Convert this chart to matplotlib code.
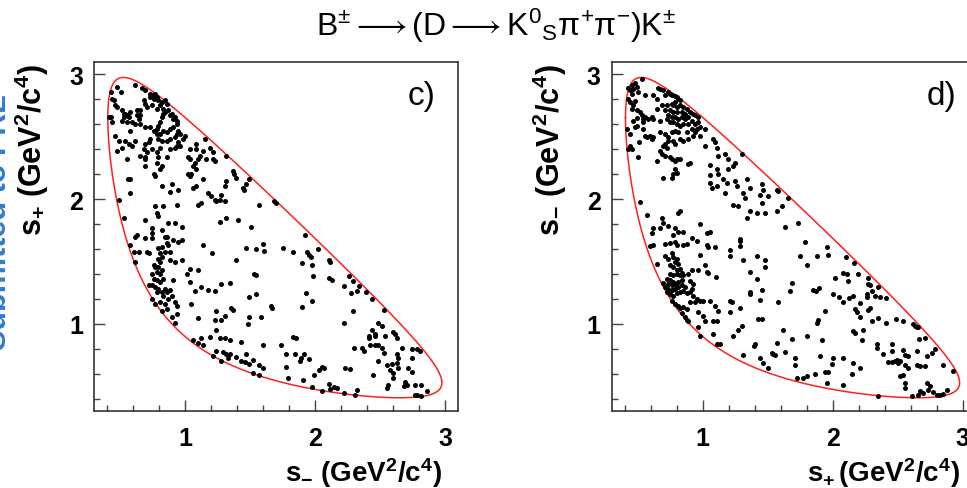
import numpy as np
import matplotlib
matplotlib.use("Agg")
import matplotlib.pyplot as plt
from matplotlib.ticker import MultipleLocator

plt.rcParams['font.family'] = ['Liberation Sans', 'DejaVu Sans']
plt.rcParams['mathtext.fontset'] = 'custom'
plt.rcParams['mathtext.rm'] = 'Liberation Sans'
plt.rcParams['mathtext.it'] = 'Liberation Sans:italic'
plt.rcParams['mathtext.bf'] = 'Liberation Sans:bold'
plt.rcParams['mathtext.sf'] = 'Liberation Sans'

# particle masses (GeV/c^2) defining the Dalitz plot boundary
m_D, m_K, m_pi = 1.8648, 0.4976, 0.1396

# ---------------- panel c) : (s-, s+) pairs ----------------
c_top = [(0.478, 2.900), (0.504, 2.860), (0.43, 2.86), (0.618, 2.919), (0.669, 2.892), (0.694, 2.874),
         (0.732, 2.846), (0.745, 2.833), (0.770, 2.846), (0.783, 2.82), (0.796, 2.792), (0.758, 2.806),
         (0.727, 2.82), (0.808, 2.752), (0.821, 2.779), (0.847, 2.792), (0.859, 2.765), (0.834, 2.725),
         (0.783, 2.725), (0.745, 2.752), (0.707, 2.738), (0.681, 2.792), (0.689, 2.765), (0.656, 2.711),
         (0.631, 2.711), (0.58, 2.698), (0.554, 2.671), (0.529, 2.684), (0.516, 2.711), (0.478, 2.738),
         (0.465, 2.752), (0.45, 2.792), (0.44, 2.806), (0.43, 2.657), (0.415, 2.657), (0.44, 2.617),
         (0.516, 2.63), (0.529, 2.657), (0.542, 2.684), (0.567, 2.657), (0.554, 2.617), (0.593, 2.617),
         (0.618, 2.604), (0.643, 2.644), (0.656, 2.604), (0.694, 2.576), (0.732, 2.576), (0.758, 2.55),
         (0.783, 2.563), (0.796, 2.59), (0.808, 2.617), (0.821, 2.657), (0.834, 2.684), (0.847, 2.698),
         (0.872, 2.711), (0.885, 2.671), (0.897, 2.684), (0.91, 2.644), (0.923, 2.657), (0.935, 2.63),
         (0.94, 2.604), (0.91, 2.576), (0.885, 2.563), (0.859, 2.536), (0.834, 2.55), (0.808, 2.522),
         (0.796, 2.482), (0.783, 2.522), (0.732, 2.482), (0.72, 2.455), (0.694, 2.442), (0.681, 2.401),
         (0.656, 2.347), (0.694, 2.334), (0.707, 2.374), (0.745, 2.401), (0.783, 2.374), (0.808, 2.414),
         (0.821, 2.468), (0.859, 2.468), (0.885, 2.482), (0.923, 2.496), (0.935, 2.522), (0.948, 2.55),
         (0.961, 2.522), (0.999, 2.509), (0.986, 2.482), (0.948, 2.455), (0.935, 2.428), (0.961, 2.423),
         (0.923, 2.414), (0.885, 2.401), (0.859, 2.334), (0.796, 2.334), (0.783, 2.293), (0.808, 2.239),
         (0.821, 2.266), (0.758, 2.198), (0.77, 2.185), (0.694, 2.32), (0.694, 2.266), (0.554, 2.32),
         (0.516, 2.414), (0.478, 2.388), (0.49, 2.468), (0.465, 2.509), (0.542, 2.468), (0.567, 2.442),
         (0.593, 2.428), (0.618, 2.468), (0.58, 2.55), (0.631, 2.671), (0.656, 2.671)]
c_mid = [(0.821, 2.104), (0.885, 2.055), (0.948, 2.077), (0.897, 2.118), (1.037, 2.401), (1.024, 2.334),
         (1.037, 2.32), (1.062, 2.266), (1.088, 2.239), (1.075, 2.293), (1.1, 2.32), (1.113, 2.347),
         (1.088, 2.442), (1.088, 2.401), (1.151, 2.482), (1.139, 2.388), (1.164, 2.32), (1.215, 2.32),
         (1.19, 2.414), (1.215, 2.374), (1.228, 2.306), (1.037, 2.185), (1.05, 2.198), (1.024, 2.198),
         (1.062, 2.09), (1.088, 2.104), (1.139, 2.158), (1.177, 2.05), (1.202, 2.023), (1.228, 1.996),
         (1.24, 1.982), (1.278, 2.036), (1.266, 1.996), (1.304, 1.982), (1.316, 2.144), (1.304, 2.104),
         (1.367, 2.226), (1.38, 2.198), (1.393, 2.172), (1.443, 2.09), (1.456, 2.077), (1.494, 2.158),
         (1.469, 2.118), (1.316, 2.347), (1.57, 1.956), (1.685, 1.982), (1.697, 1.969), (1.126, 1.969),
         (1.1, 1.956), (0.56, 2.163), (0.575, 2.158), (0.58, 2.05), (0.49, 1.996), (0.529, 1.848),
         (0.694, 1.834), (0.77, 1.942), (0.783, 1.888), (0.796, 1.861), (0.834, 1.942), (0.872, 1.807),
         (0.923, 1.812), (0.935, 1.956), (0.745, 1.766), (0.745, 1.726), (0.821, 1.753), (0.847, 1.699),
         (0.631, 1.712), (1.266, 1.82), (1.316, 1.848), (1.405, 1.834), (1.507, 1.78), (0.974, 1.775),
         (0.859, 1.699), (0.618, 1.699)]
c_low = [(0.694, 1.685), (0.745, 1.685), (0.91, 1.672), (0.948, 1.658), (0.974, 1.672), (0.859, 1.645),
         (0.872, 1.631), (0.58, 1.631), (0.605, 1.577), (0.643, 1.577), (0.707, 1.577), (0.72, 1.564),
         (0.796, 1.604), (0.821, 1.618), (0.808, 1.564), (0.847, 1.577), (0.885, 1.577), (0.796, 1.523),
         (0.821, 1.537), (0.808, 1.496), (0.885, 1.51), (0.923, 1.496), (0.974, 1.515), (0.618, 1.496),
         (0.758, 1.469), (0.77, 1.456), (0.796, 1.456), (0.821, 1.429), (0.783, 1.415), (0.808, 1.402),
         (0.745, 1.402), (0.758, 1.361), (0.783, 1.348), (0.808, 1.334), (0.834, 1.361), (0.91, 1.348),
         (0.72, 1.307), (0.745, 1.307), (0.77, 1.294), (0.796, 1.28), (0.783, 1.253), (0.821, 1.253),
         (0.847, 1.28), (0.859, 1.253), (0.885, 1.267), (0.897, 1.226), (0.872, 1.199), (0.834, 1.226),
         (0.745, 1.199), (0.77, 1.159), (0.808, 1.172), (0.847, 1.159), (0.859, 1.118), (0.821, 1.105),
         (0.923, 1.172), (0.935, 1.145), (0.897, 1.051), (0.935, 1.078), (0.923, 1.01), (1.139, 1.631),
         (1.204, 1.569), (1.393, 1.515), (1.469, 1.604), (1.547, 1.596), (1.598, 1.64), (1.611, 1.586),
         (1.751, 1.604), (1.037, 1.442), (1.1, 1.429), (1.012, 1.402), (1.037, 1.334), (1.075, 1.262),
         (1.126, 1.294), (1.177, 1.267), (1.228, 1.262), (1.278, 1.321), (1.343, 1.326), (1.05, 1.159),
         (1.1, 1.043), (1.24, 1.1), (1.278, 1.029), (1.228, 1.029), (1.304, 1.064), (1.355, 1.127),
         (1.367, 1.11), (1.547, 1.388), (1.532, 1.402), (1.494, 1.218), (1.547, 1.235), (1.482, 0.997),
         (1.494, 1.056), (1.585, 1.051), (1.66, 1.145), (1.672, 1.127), (1.237, 0.948), (1.062, 0.867),
         (1.1, 0.848), (1.139, 0.829), (1.126, 0.889), (1.19, 0.894), (1.267, 0.889), (1.305, 0.884),
         (1.344, 0.867), (1.433, 0.857), (1.237, 0.781), (1.216, 0.74), (1.293, 0.776), (1.318, 0.759),
         (1.344, 0.759), (1.331, 0.727), (1.28, 0.705), (1.395, 0.732), (1.433, 0.7), (1.471, 0.754),
         (1.458, 0.695), (1.496, 0.678), (1.522, 0.713), (1.573, 0.668), (1.598, 0.646), (1.522, 0.605),
         (1.573, 0.587), (1.598, 0.829), (1.738, 0.829), (1.776, 0.759), (1.776, 0.651), (1.789, 0.565)]
c_right = [(1.923, 1.712), (1.827, 1.577), (1.941, 1.577), (1.954, 1.55), (1.967, 1.537), (2.025, 1.596),
           (1.903, 1.488), (1.979, 1.475), (2.107, 1.51), (2.112, 1.496), (1.985, 1.38), (2.107, 1.37),
           (2.127, 1.348), (2.221, 1.299), (2.265, 1.38), (2.29, 1.34), (2.336, 1.299), (2.323, 1.262),
           (2.28, 1.248), (2.392, 1.253), (2.438, 1.197), (1.929, 1.248), (1.979, 1.181), (1.898, 1.137),
           (2.29, 1.105), (2.527, 1.11), (2.221, 1.01), (2.488, 1.01), (2.514, 0.983), (2.438, 0.951),
           (2.463, 0.916), (2.412, 0.902), (2.417, 0.884), (2.463, 0.902), (2.539, 0.902), (2.603, 0.935),
           (2.616, 0.916), (2.634, 0.889), (1.827, 0.894), (1.852, 0.884), (2.298, 0.808), (2.361, 0.808),
           (2.374, 0.781), (2.425, 0.83), (2.463, 0.83), (2.488, 0.83), (2.514, 0.808), (2.527, 0.767),
           (2.667, 0.803), (2.743, 0.794), (2.781, 0.794), (2.807, 0.781), (1.847, 0.754), (1.89, 0.727),
           (1.883, 0.7), (1.916, 0.754), (1.954, 0.719), (2.488, 0.7), (2.552, 0.668), (2.59, 0.678),
           (2.628, 0.754), (2.641, 0.722), (2.578, 0.632), (2.603, 0.605), (2.628, 0.686), (2.641, 0.641),
           (2.717, 0.646), (2.743, 0.614), (2.743, 0.722), (1.992, 0.587), (2.03, 0.632), (2.056, 0.651),
           (2.069, 0.646), (2.234, 0.646), (2.272, 0.638), (2.443, 0.587), (1.908, 0.546), (1.979, 0.492),
           (2.056, 0.457), (2.107, 0.516), (2.112, 0.476), (2.145, 0.492), (2.17, 0.484), (2.221, 0.443),
           (2.31, 0.425), (2.323, 0.468), (2.552, 0.484), (2.565, 0.505), (2.603, 0.565), (2.692, 0.53),
           (2.705, 0.511), (2.687, 0.503), (2.768, 0.505), (2.768, 0.43), (2.781, 0.43), (2.819, 0.511),
           (2.819, 0.417), (2.858, 0.457)]

# ---------------- panel d) : (s+, s-) pairs ----------------
d_top = [(0.531, 2.963), (0.479, 2.928), (0.454, 2.914), (0.428, 2.892), (0.441, 2.874), (0.466, 2.887),
         (0.492, 2.9), (0.505, 2.86), (0.454, 2.846), (0.428, 2.806), (0.441, 2.779), (0.479, 2.784),
         (0.466, 2.752), (0.454, 2.725), (0.492, 2.711), (0.518, 2.698), (0.531, 2.671), (0.543, 2.644),
         (0.556, 2.657), (0.492, 2.649), (0.466, 2.63), (0.415, 2.563), (0.441, 2.522), (0.479, 2.576),
         (0.492, 2.59), (0.543, 2.563), (0.556, 2.509), (0.569, 2.496), (0.595, 2.509), (0.608, 2.482),
         (0.62, 2.496), (0.513, 2.455), (0.441, 2.423), (0.428, 2.401), (0.454, 2.406), (0.505, 2.334),
         (0.556, 2.838), (0.62, 2.833), (0.646, 2.806), (0.659, 2.892), (0.672, 2.887), (0.697, 2.874),
         (0.71, 2.833), (0.736, 2.86), (0.749, 2.846), (0.761, 2.838), (0.787, 2.828), (0.8, 2.82),
         (0.813, 2.806), (0.825, 2.792), (0.787, 2.779), (0.761, 2.765), (0.774, 2.752), (0.8, 2.738),
         (0.825, 2.752), (0.851, 2.738), (0.877, 2.725), (0.864, 2.684), (0.838, 2.698), (0.8, 2.698),
         (0.774, 2.698), (0.749, 2.711), (0.736, 2.671), (0.761, 2.657), (0.787, 2.657), (0.813, 2.644),
         (0.838, 2.657), (0.864, 2.644), (0.89, 2.657), (0.902, 2.698), (0.928, 2.684), (0.941, 2.671),
         (0.966, 2.657), (0.966, 2.617), (0.941, 2.604), (0.915, 2.63), (0.89, 2.604), (0.851, 2.604),
         (0.825, 2.59), (0.8, 2.604), (0.774, 2.617), (0.749, 2.617), (0.723, 2.644), (0.672, 2.63),
         (0.62, 2.644), (0.608, 2.657), (0.582, 2.644), (0.543, 2.617), (0.646, 2.725), (0.684, 2.752),
         (0.71, 2.711), (0.723, 2.752)]
d_mid = [(0.672, 2.536), (0.71, 2.522), (0.736, 2.496), (0.761, 2.536), (0.787, 2.55), (0.813, 2.536),
         (0.825, 2.482), (0.851, 2.468), (0.89, 2.482), (0.928, 2.509), (0.941, 2.536), (0.954, 2.563),
         (0.979, 2.576), (1.018, 2.563), (0.979, 2.509), (0.915, 2.563), (0.877, 2.536), (0.736, 2.468),
         (0.774, 2.468), (0.787, 2.442), (0.71, 2.442), (0.723, 2.414), (0.697, 2.428), (0.672, 2.388),
         (0.684, 2.36), (0.71, 2.347), (0.749, 2.334), (0.8, 2.32), (0.787, 2.306), (0.825, 2.32),
         (0.761, 2.32), (0.646, 2.306), (0.787, 2.239), (0.8, 2.212), (0.774, 2.198), (0.697, 2.172),
         (0.761, 2.172), (0.902, 2.293), (0.89, 2.28), (1.018, 2.423), (1.056, 2.271), (1.082, 2.482),
         (1.095, 2.455), (1.108, 2.414), (1.12, 2.347), (1.172, 2.36), (1.197, 2.32), (1.249, 2.293),
         (1.236, 2.266), (1.197, 2.239), (1.108, 2.239), (1.12, 2.198), (1.056, 2.19), (1.159, 2.158),
         (1.056, 2.131), (1.108, 2.104), (1.069, 2.09), (1.172, 2.05), (1.184, 2.131), (1.249, 2.144),
         (1.261, 2.104), (1.338, 2.158), (1.313, 2.05), (1.325, 2.01), (1.364, 2.09), (1.454, 2.118),
         (1.466, 2.077), (1.441, 2.036), (1.364, 1.902), (1.415, 1.888), (1.454, 1.969), (1.479, 1.888),
         (1.505, 2.023), (1.569, 2.077), (1.582, 2.064), (1.608, 1.942), (1.569, 1.902), (1.633, 1.78),
         (1.659, 2.01), (1.736, 1.807), (1.3, 2.36), (1.236, 1.956), (1.274, 1.942), (1.338, 1.848),
         (0.518, 1.974), (0.569, 1.875), (0.684, 1.848), (0.697, 1.807), (0.736, 1.786), (0.62, 1.766),
         (0.608, 1.726), (0.672, 1.766), (0.787, 1.766), (0.813, 1.888), (0.825, 1.902), (0.774, 1.712),
         (0.813, 1.74), (0.851, 1.74), (0.979, 1.802), (0.915, 1.686), (1.031, 1.731), (1.056, 1.74),
         (1.287, 1.677)]
d_low = [(0.595, 1.623), (0.62, 1.631), (0.71, 1.64), (0.749, 1.650), (0.787, 1.658), (0.8, 1.631),
         (0.851, 1.631), (0.877, 1.64), (0.954, 1.667), (1.031, 1.631), (1.043, 1.618), (1.095, 1.618),
         (1.21, 1.591), (1.287, 1.667), (1.287, 1.623), (1.21, 1.542), (1.313, 1.51), (1.415, 1.542),
         (1.479, 1.515), (1.479, 1.456), (1.787, 1.658), (1.748, 1.542), (1.8, 1.469), (0.646, 1.483),
         (0.71, 1.542), (0.736, 1.523), (0.761, 1.564), (0.774, 1.537), (0.8, 1.523), (0.787, 1.496),
         (0.813, 1.483), (0.749, 1.469), (0.774, 1.456), (0.8, 1.429), (0.825, 1.442), (0.749, 1.402),
         (0.774, 1.388), (0.8, 1.402), (0.825, 1.388), (0.838, 1.407), (0.851, 1.388), (0.723, 1.361),
         (0.749, 1.348), (0.774, 1.334), (0.736, 1.321), (0.761, 1.307), (0.787, 1.321), (0.813, 1.334),
         (0.838, 1.348), (0.697, 1.326), (0.71, 1.294), (0.736, 1.28), (0.761, 1.267), (0.787, 1.28),
         (0.813, 1.294), (0.838, 1.307), (0.864, 1.294), (0.723, 1.253), (0.749, 1.24), (0.774, 1.226),
         (0.8, 1.245), (0.825, 1.253), (0.851, 1.262), (0.877, 1.245), (0.902, 1.253), (0.915, 1.28),
         (0.928, 1.321), (0.902, 1.343), (0.89, 1.402), (0.915, 1.429), (0.966, 1.434), (0.979, 1.55),
         (1.018, 1.469), (1.031, 1.415), (1.043, 1.407), (0.928, 1.226), (0.954, 1.199), (0.941, 1.172),
         (0.902, 1.172), (0.761, 1.186), (0.787, 1.159), (0.813, 1.145), (0.825, 1.127), (0.851, 1.132),
         (0.877, 1.118), (0.838, 1.083), (0.864, 1.051), (0.877, 1.029), (0.89, 1.024), (0.979, 1.181),
         (1.005, 1.186), (1.056, 1.181), (0.966, 1.091), (1.005, 1.064), (1.018, 1.024), (0.966, 0.975),
         (0.979, 0.902), (1.082, 1.024), (1.108, 1.024), (1.095, 1.145), (1.12, 1.105), (1.102, 1.375),
         (1.21, 1.186), (1.223, 1.172), (1.21, 1.091), (1.287, 1.127), (1.364, 1.415), (1.415, 1.361),
         (1.454, 1.267), (1.364, 1.253), (1.364, 1.235), (1.441, 1.191), (1.428, 1.037), (1.454, 1.037),
         (1.582, 1.172), (1.684, 1.326), (1.671, 1.262), (1.082, 0.916), (1.108, 0.84), (1.133, 0.84),
         (1.236, 0.902), (1.274, 0.948), (1.3, 0.983), (1.313, 0.749), (1.395, 0.821), (1.402, 0.835),
         (1.441, 0.727), (1.466, 0.686), (1.505, 0.641), (1.543, 0.759), (1.569, 0.848), (1.531, 0.767),
         (1.556, 0.749), (1.615, 0.948), (1.633, 0.776), (1.684, 0.875), (1.71, 0.722), (1.71, 0.668),
         (1.8, 0.902), (1.723, 0.565), (1.774, 0.565), (1.8, 0.578)]
d_right = [(1.958, 1.618), (1.876, 1.542), (1.966, 1.55), (2.102, 1.532), (2.163, 1.488), (2.017, 1.37),
           (2.081, 1.407), (2.107, 1.402), (2.12, 1.34), (2.197, 1.402), (2.274, 1.37), (2.274, 1.316),
           (2.286, 1.307), (2.299, 1.262), (2.325, 1.226), (2.351, 1.294), (2.363, 1.218), (2.41, 1.208),
           (2.261, 1.24), (2.261, 1.213), (1.851, 1.267), (1.871, 1.262), (1.897, 1.289), (2.004, 1.235),
           (2.051, 1.218), (2.076, 1.178), (2.127, 1.208), (2.153, 1.226), (2.21, 1.164), (2.171, 1.118),
           (2.184, 1.091), (2.21, 1.051), (2.274, 1.11), (2.286, 1.127), (2.299, 1.019), (2.351, 1.046),
           (2.41, 1.01), (2.486, 1.035), (2.543, 1.024), (2.62, 0.997), (2.633, 0.983), (2.645, 0.975),
           (2.658, 0.97), (2.666, 0.875), (2.71, 0.889), (1.94, 1.1), (1.889, 1.029), (1.876, 1.01),
           (1.915, 0.867), (2.158, 0.943), (2.171, 0.929), (2.235, 0.948), (2.222, 0.867), (2.338, 0.84),
           (2.338, 0.803), (2.389, 0.754), (2.453, 0.835), (2.453, 0.781), (2.427, 0.695), (2.453, 0.695),
           (2.479, 0.7), (2.492, 0.713), (2.504, 0.686), (2.517, 0.7), (2.543, 0.786), (2.556, 0.749),
           (2.581, 0.74), (2.556, 0.668), (2.581, 0.646), (2.645, 0.781), (2.645, 0.668), (2.671, 0.659),
           (2.71, 0.659), (2.722, 0.74), (2.761, 0.767), (2.786, 0.794), (2.851, 0.673), (2.927, 0.619),
           (1.902, 0.74), (2.004, 0.722), (2.081, 0.722), (2.158, 0.686), (2.21, 0.646), (2.145, 0.597),
           (1.992, 0.678), (1.94, 0.614), (1.966, 0.614), (1.863, 0.597), (1.953, 0.525), (2.081, 0.511),
           (2.351, 0.417), (2.517, 0.578), (2.543, 0.592), (2.556, 0.525), (2.556, 0.484), (2.607, 0.417),
           (2.658, 0.43), (2.671, 0.457), (2.697, 0.443), (2.735, 0.47), (2.748, 0.497), (2.722, 0.525),
           (2.774, 0.452), (2.799, 0.43), (2.825, 0.43), (2.851, 0.435), (2.876, 0.47)]

title_text = (r"$\mathrm{B^{\pm}{\longrightarrow}(D{\longrightarrow}K^{0}{}_{S}"
              r"\pi^{+}\pi^{-})K^{\pm}}$")
xlabels = [r"$\mathbf{s_{-}\ (GeV^{2}/c^{4})}$", r"$\mathbf{s_{+}\,(GeV^{2}/c^{4})}$"]
ylabels = [r"$\mathbf{s_{+}\ (GeV^{2}/c^{4})}$", r"$\mathbf{s_{-}\ (GeV^{2}/c^{4})}$"]
panel_tags = ["c)", "d)"]
side_note = "Submitted to PRL"


def dalitz_boundary(n=600):
    smin = (m_K + m_pi) ** 2
    smax = (m_D - m_pi) ** 2
    t = np.linspace(0.0, np.pi, n)
    s = smin + (smax - smin) * (1 - np.cos(t)) / 2
    m12 = np.sqrt(s)
    e2 = (s - m_pi ** 2 + m_K ** 2) / (2 * m12)
    e3 = (m_D ** 2 - s - m_pi ** 2) / (2 * m12)
    p2 = np.sqrt(np.clip(e2 ** 2 - m_K ** 2, 0, None))
    p3 = np.sqrt(np.clip(e3 ** 2 - m_pi ** 2, 0, None))
    lo = (e2 + e3) ** 2 - (p2 + p3) ** 2
    hi = (e2 + e3) ** 2 - (p2 - p3) ** 2
    bx = np.concatenate([s, s[::-1], s[:1]])
    by = np.concatenate([lo, hi[::-1], lo[:1]])
    return bx, by


W, H = 967, 489
fig = plt.figure(figsize=(W / 100, H / 100), dpi=100)

axes_px = [(94, 63, 364, 349), (611.7, 63, 364, 349)]  # left, top, width, height in pixels
panels = [c_top + c_mid + c_low + c_right, d_top + d_mid + d_low + d_right]
bx, by = dalitz_boundary()

for i, (l, t, w, h) in enumerate(axes_px):
    ax = fig.add_axes([l / W, 1 - (t + h) / H, w / W, h / H])
    pts = np.array(panels[i])
    ax.plot(bx, by, color='#ff2020', lw=1.1, zorder=2)
    ax.plot(pts[:, 0], pts[:, 1], 'o', color='black', ms=3.6, mew=0, zorder=3)
    ax.set_xlim(0.3, 3.1)
    ax.set_ylim(0.3, 3.1)
    ax.xaxis.set_major_locator(MultipleLocator(1))
    ax.yaxis.set_major_locator(MultipleLocator(1))
    ax.xaxis.set_minor_locator(MultipleLocator(0.2))
    ax.yaxis.set_minor_locator(MultipleLocator(0.2))
    ax.tick_params(which='both', direction='in', top=False, right=False, color='#444444', width=1.0)
    ax.tick_params(which='major', length=8, labelsize=18)
    ax.tick_params(which='minor', length=4.3)
    ax.tick_params(axis='x', which='major', pad=11)
    ax.tick_params(axis='y', which='major', pad=8)
    for lab in ax.get_xticklabels() + ax.get_yticklabels():
        lab.set_fontweight('bold')
    for sp in ax.spines.values():
        sp.set_color('#333333')
        sp.set_linewidth(1.2)
    ax.text(1 - 16 / w, -70 / h, xlabels[i], transform=ax.transAxes, ha='right', va='baseline',
            fontsize=20)
    fig.text((l - 62) / W, 1 - 64 / H, ylabels[i], rotation=90, ha='center', va='top', fontsize=22)
    tag_x = 422 if i == 0 else 941
    fig.text(tag_x / W, 1 - 97 / H, panel_tags[i], ha='center', va='center', fontsize=24)

fig.text(496 / W, 1 - 36 / H, title_text, ha='center', va='baseline', fontsize=23)
fig.text(13 / W, 267 / H, side_note, rotation=90, ha='right', va='center', fontsize=22,
         fontweight='bold', color='#2f7bd6')

fig.savefig("out.png", dpi=100)
